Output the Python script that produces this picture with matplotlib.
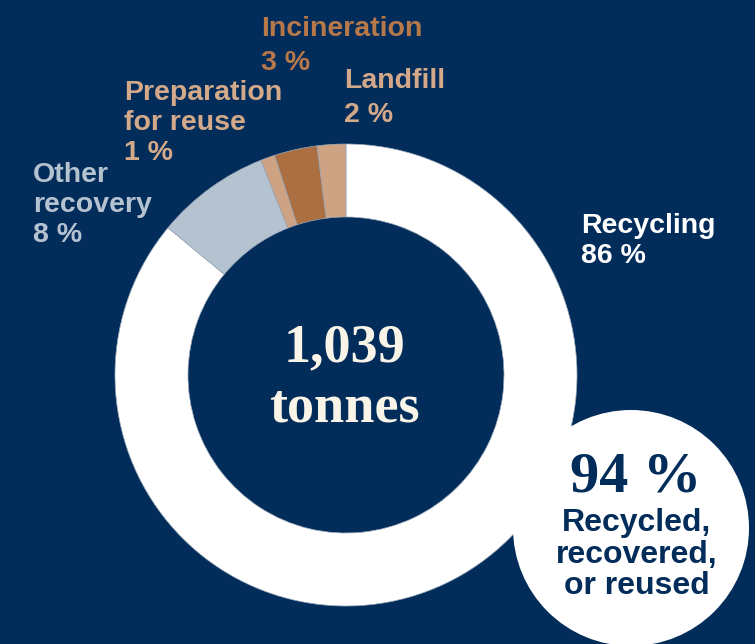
import matplotlib.pyplot as plt
from matplotlib.patches import Circle

# waste treatment split, clockwise from the top
categories = ["Recycling", "Other\nrecovery", "Preparation\nfor reuse", "Incineration", "Landfill"]
shares = [86, 8, 1, 3, 2]
slice_colors = ["#ffffff", "#b5c3d1", "#cda384", "#ab6f41", "#cda384"]
label_colors = ["#ffffff", "#b5c3d1", "#d3a98a", "#b7784a", "#d3a98a"]

total_tonnes = "1,039"
recovered_share = 94
recovered_text = ["Recycled,", "recovered,", "or reused"]

navy = "#022c5a"
cream = "#f8f5e8"
sans = ["Liberation Sans", "DejaVu Sans"]
serif = ["Liberation Serif", "DejaVu Serif"]

W, H = 755, 644
fig = plt.figure(figsize=(W / 100, H / 100), dpi=100, facecolor=navy)
ax = fig.add_axes([0, 0, 1, 1])
ax.set_facecolor(navy)

cx, cy = 346, H - 375
ax.pie(shares, colors=slice_colors, startangle=90, counterclock=False,
       center=(cx, cy), radius=231, frame=True,
       wedgeprops=dict(width=73, edgecolor="#9aa9ba", linewidth=0.5))
ax.set_xlim(0, W)
ax.set_ylim(0, H)
ax.set_aspect("equal")
ax.axis("off")

# label anchors: left x, first baseline, line gap (pixels from the top)
label_pos = [(581, 233, 30), (33, 182, 30), (124, 100, 30), (261, 36, 34), (344, 88, 34)]
for name, val, col, (lx, ly, gap) in zip(categories, shares, label_colors, label_pos):
    lines = name.split("\n") + [f"{val} %"]
    for i, line in enumerate(lines):
        ax.text(lx, H - ly - i * gap, line, color=col, fontsize=20.5,
                family=sans, weight="bold", ha="left", va="baseline")

# total in the hole
ax.text(cx - 2, H - 361, total_tonnes, color=cream, fontsize=39, family=serif,
        weight="bold", ha="center", va="baseline")
ax.text(cx - 2, H - 421, "tonnes", color=cream, fontsize=39, family=serif,
        weight="bold", ha="center", va="baseline")

# bubble with the recovered share
bx, by = 631, H - 528
ax.add_patch(Circle((bx, by), 118, facecolor="white", edgecolor="none", zorder=3))
ax.text(636, H - 492, f"{recovered_share} %", color=navy, fontsize=42, family=serif,
        weight="bold", ha="center", va="baseline", zorder=4)
for i, line in enumerate(recovered_text):
    ax.text(637, H - 531 - i * 31.5, line, color=navy, fontsize=23,
            family=sans, weight="bold", ha="center", va="baseline", zorder=4)

fig.savefig("out.png", dpi=100, facecolor=navy)
